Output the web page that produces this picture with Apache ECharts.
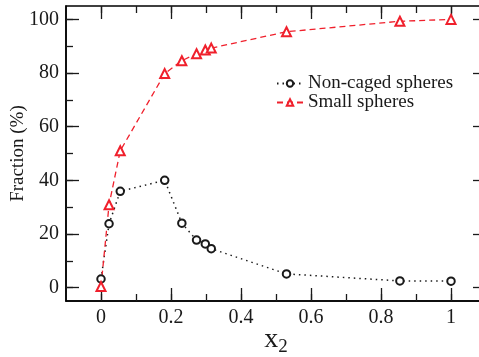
<!DOCTYPE html>
<html>
<head>
<meta charset="utf-8">
<script src="https://cdn.jsdelivr.net/npm/echarts@6/dist/echarts.min.js"></script>
<style>
  html, body { margin: 0; padding: 0; background: #fff; }
  #chart { width: 479px; height: 357px; }
</style>
</head>
<body>
<div id="chart"></div>
<script>
// x2 values shared by both series
const x2 = [0, 0.023, 0.055, 0.182, 0.231, 0.273, 0.298, 0.315, 0.53, 0.854, 1.0];
const nonCaged = [3.2, 23.8, 35.9, 40.0, 24.0, 17.7, 16.3, 14.5, 5.1, 2.5, 2.4];
const smallSpheres = [0.4, 30.9, 51.0, 79.8, 84.6, 87.2, 88.6, 89.3, 95.4, 99.3, 100.0];

const xMajor = [0, 0.2, 0.4, 0.6, 0.8, 1];
const xMinor = [0, 0.1, 0.2, 0.3, 0.4, 0.5, 0.6, 0.7, 0.8, 0.9, 1.0];
const yMajor = [0, 20, 40, 60, 80, 100];
const yMinor = [0, 10, 20, 30, 40, 50, 60, 70, 80, 90, 100];

const font = "Liberation Serif";
const red = "#f0202c";
const ink = "#1a1a1a";

function xAx(pos, ticks, len, labels, line) {
  return {
    type: "value", position: pos, min: -0.1, max: 1.1,
    axisLine: { show: line, onZero: false, lineStyle: { color: "#000", width: 1.5 } },
    axisTick: { inside: true, length: len, customValues: ticks, lineStyle: { color: ink, width: 1.3 } },
    axisLabel: labels ? {
      customValues: xMajor, fontFamily: font, fontSize: 20, color: ink, margin: 7,
      formatter: (v) => String(Math.round(v * 10) / 10)
    } : { show: false },
    splitLine: { show: false }
  };
}
function yAx(pos, ticks, len, labels, line) {
  return {
    type: "value", position: pos, min: -5, max: 105,
    axisLine: { show: line, onZero: false, lineStyle: { color: "#000", width: 1.5 } },
    axisTick: { inside: true, length: len, customValues: ticks, lineStyle: { color: ink, width: 1.3 } },
    axisLabel: labels ? { customValues: yMajor, fontFamily: font, fontSize: 20, color: ink, margin: 7 } : { show: false },
    splitLine: { show: false }
  };
}

const xMain = xAx("bottom", xMajor, 13, true, true);
xMain.name = "{x|x}{s|2}";
xMain.nameLocation = "middle";
xMain.nameMoveOverlap = false;
xMain.nameGap = 21;
xMain.nameTextStyle = {
  rich: {
    x: { fontFamily: font, fontSize: 28, color: ink },
    s: { fontFamily: font, fontSize: 19, color: ink, padding: [16, 0, 0, 0] }
  }
};

const yMain = yAx("left", yMajor, 13, true, true);
yMain.name = "Fraction (%)";
yMain.nameLocation = "middle";
yMain.nameMoveOverlap = false;
yMain.nameGap = 38;
yMain.nameTextStyle = { fontFamily: font, fontSize: 19, color: ink };

const chart = echarts.init(document.getElementById("chart"));
chart.setOption({
  animation: false,
  grid: {
    left: 66, top: 6, right: -7, bottom: 56, outerBoundsMode: "none",
    show: true, borderColor: "#000", borderWidth: 1.5
  },
  legend: {
    left: 271, top: 69, orient: "vertical", itemGap: 0, itemWidth: 26, itemHeight: 8,
    textStyle: { fontFamily: font, fontSize: 19, color: ink },
    data: ["Non-caged spheres", "Small spheres"]
  },
  xAxis: [
    xMain,
    xAx("bottom", xMinor, 7, false, false),
    xAx("top", xMajor, 13, false, false),
    xAx("top", xMinor, 7, false, false)
  ],
  yAxis: [
    yMain,
    yAx("left", yMinor, 7, false, false),
    yAx("right", yMajor, 13, false, false),
    yAx("right", yMinor, 7, false, false)
  ],
  series: [
    {
      name: "Non-caged spheres", type: "line",
      data: x2.map((x, i) => [x, nonCaged[i]]),
      symbol: "emptyCircle", symbolSize: 7.5,
      lineStyle: { color: ink, width: 1.5, type: [1.5, 4] },
      itemStyle: { color: ink, borderWidth: 1.3 }
    },
    {
      name: "Small spheres", type: "line",
      data: x2.map((x, i) => [x, smallSpheres[i]]),
      symbol: "emptyTriangle", symbolSize: 9,
      lineStyle: { color: red, width: 1.3, type: [6, 4] },
      itemStyle: { color: red, borderWidth: 1.3 }
    }
  ]
});
</script>
</body>
</html>
